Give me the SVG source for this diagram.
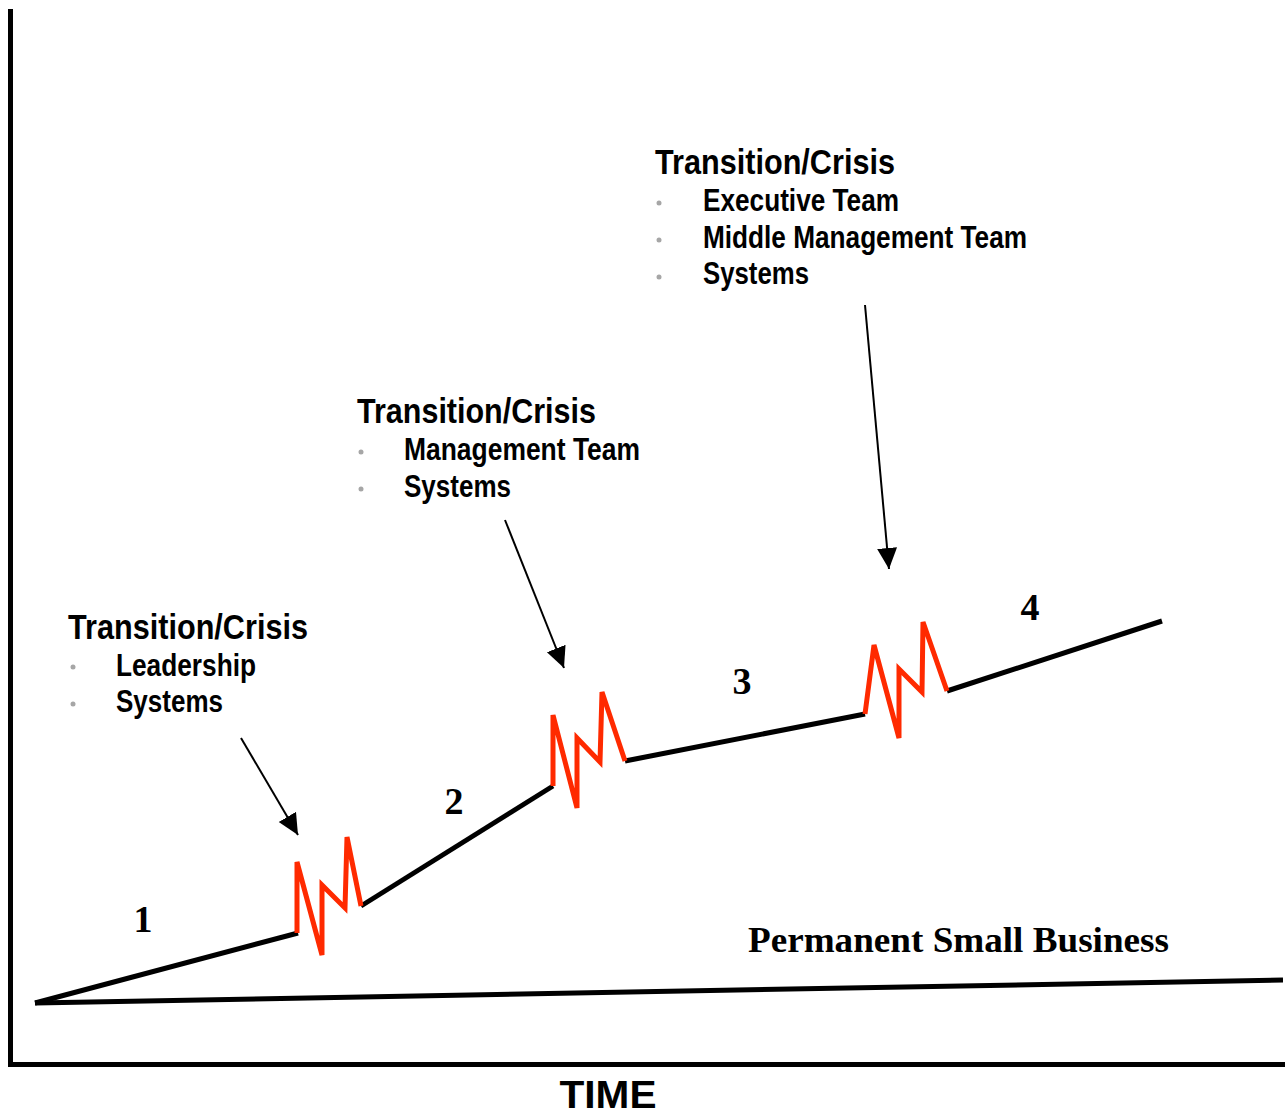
<svg xmlns="http://www.w3.org/2000/svg" width="1285" height="1116" viewBox="0 0 1285 1116">
<defs>
<marker id="ah" markerUnits="userSpaceOnUse" markerWidth="22" markerHeight="22" viewBox="0 0 22 22" refX="21" refY="11" orient="auto">
<path d="M0,1 L21,11 L0,21 Z" fill="#000"/>
</marker>
</defs>
<style>
.ax{stroke:#000;stroke-width:5;fill:none}
.trend{stroke:#000;stroke-width:5;fill:none;stroke-linecap:butt}
.zig{stroke:#ff2a00;stroke-width:5;fill:none;stroke-linejoin:miter}
.arr{stroke:#000;stroke-width:2;fill:none}
.ttl{font-family:"Liberation Sans",Arial,sans-serif;font-weight:bold;font-size:35px;fill:#000}
.itm{font-family:"Liberation Sans",Arial,sans-serif;font-weight:bold;font-size:31px;fill:#000}
.num{font-family:"Liberation Serif","Times New Roman",serif;font-weight:bold;font-size:38px;fill:#000}
.dot{fill:#a6a6a6}
</style>
<rect width="1285" height="1116" fill="#fff"/>
<g id="axes">
<path class="ax" d="M10.5,9 L10.5,1064.5 L1285,1064.5"/>
<text x="608" y="1108" text-anchor="middle" font-family="'Liberation Sans',Arial,sans-serif" font-weight="bold" font-size="39" textLength="97" lengthAdjust="spacingAndGlyphs">TIME</text>
</g>
<g id="connectors">
<path class="trend" d="M35,1003 L1283,980"/>
<path class="trend" d="M35,1003 L298,933"/>
<path class="trend" d="M361,906 L553,786"/>
<path class="trend" d="M625,761 L865,714"/>
<path class="trend" d="M947,691 L1162,621"/>
<line class="arr" x1="241" y1="738" x2="298" y2="835" marker-end="url(#ah)"/>
<line class="arr" x1="505" y1="520" x2="564" y2="668" marker-end="url(#ah)"/>
<line class="arr" x1="865" y1="305" x2="889" y2="569" marker-end="url(#ah)"/>
</g>
<g id="crisis1">
<path class="zig" d="M297,933 L297,862 L322,955 L322,885 L345,908 L347,837 L361,906"/>
</g>
<g id="crisis2">
<path class="zig" d="M553,786 L553,715 L577,808 L577,738 L600,762 L602,692 L625,761"/>
</g>
<g id="crisis3">
<path class="zig" d="M865,714 L874,645 L899,738 L899,669 L922,692 L923,622 L947,691"/>
</g>
<g id="stage1"><text class="num" x="143" y="932" text-anchor="middle">1</text></g>
<g id="stage2"><text class="num" x="454" y="814" text-anchor="middle">2</text></g>
<g id="stage3"><text class="num" x="742" y="694" text-anchor="middle">3</text></g>
<g id="stage4"><text class="num" x="1030" y="620" text-anchor="middle">4</text></g>
<g id="psb">
<text x="748" y="952" font-family="'Liberation Serif','Times New Roman',serif" font-weight="bold" font-size="35" textLength="421" lengthAdjust="spacingAndGlyphs">Permanent Small Business</text>
</g>
<g id="label1">
<text class="ttl" x="68" y="639" textLength="240" lengthAdjust="spacingAndGlyphs">Transition/Crisis</text>
<circle class="dot" cx="73" cy="667" r="2.5"/>
<text class="itm" x="116" y="676" textLength="140" lengthAdjust="spacingAndGlyphs">Leadership</text>
<circle class="dot" cx="73" cy="704" r="2.5"/>
<text class="itm" x="116" y="712" textLength="107" lengthAdjust="spacingAndGlyphs">Systems</text>
</g>
<g id="label2">
<text class="ttl" x="357" y="423" textLength="239" lengthAdjust="spacingAndGlyphs">Transition/Crisis</text>
<circle class="dot" cx="361" cy="452" r="2.5"/>
<text class="itm" x="404" y="460" textLength="236" lengthAdjust="spacingAndGlyphs">Management Team</text>
<circle class="dot" cx="361" cy="489" r="2.5"/>
<text class="itm" x="404" y="497" textLength="107" lengthAdjust="spacingAndGlyphs">Systems</text>
</g>
<g id="label3">
<text class="ttl" x="655" y="174" textLength="240" lengthAdjust="spacingAndGlyphs">Transition/Crisis</text>
<circle class="dot" cx="659" cy="203" r="2.5"/>
<text class="itm" x="703" y="211" textLength="196" lengthAdjust="spacingAndGlyphs">Executive Team</text>
<circle class="dot" cx="659" cy="240" r="2.5"/>
<text class="itm" x="703" y="248" textLength="324" lengthAdjust="spacingAndGlyphs">Middle Management Team</text>
<circle class="dot" cx="659" cy="277" r="2.5"/>
<text class="itm" x="703" y="284" textLength="106" lengthAdjust="spacingAndGlyphs">Systems</text>
</g>
</svg>
